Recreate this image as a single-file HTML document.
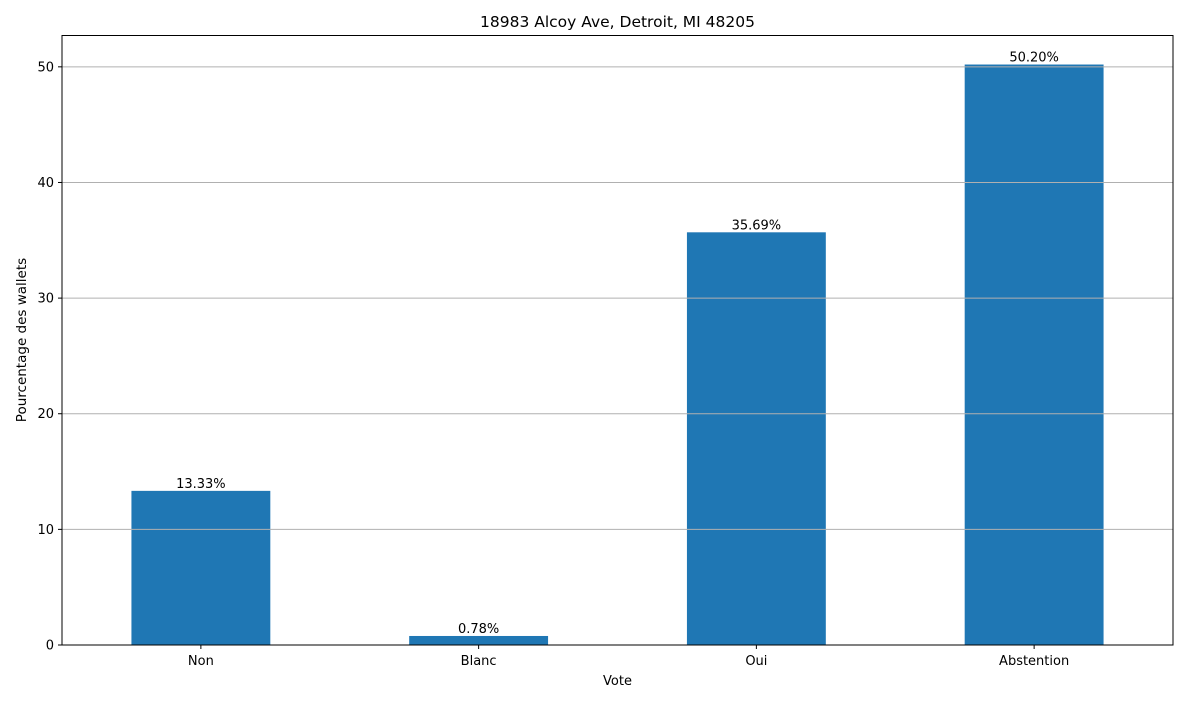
<!DOCTYPE html>
<html><head><meta charset="utf-8"><style>
body{margin:0;background:#fff;font-family:"Liberation Sans","DejaVu Sans",sans-serif;}
svg text{font-family:"DejaVu Sans","Liberation Sans",sans-serif;}
</style></head><body>
<svg id="chart" width="1188" height="703" xmlns="http://www.w3.org/2000/svg">
<rect x="0" y="0" width="1188" height="703" fill="#fff"/>
<text x="617.5" y="27" font-size="15.5" text-anchor="middle">18983 Alcoy Ave, Detroit, MI 48205</text>
<g id="bars"></g>
<g id="grid"></g>
<g id="labels"></g>
<rect x="62" y="35.5" width="1111" height="609.5" fill="none" stroke="#000" stroke-width="1"/>
<g id="yticks"></g>
<g id="xticks"></g>
<text x="617.5" y="685" font-size="13" text-anchor="middle">Vote</text>
<text transform="translate(26,340) rotate(-90)" font-size="13.5" text-anchor="middle">Pourcentage des wallets</text>
</svg>
<script>
const categories=["Non","Blanc","Oui","Abstention"];
const values=[13.33,0.78,35.69,50.20];
const yTicks=[0,10,20,30,40,50];
const NS="http://www.w3.org/2000/svg";
const L=62,R=1173,T=35.5,B=645;
const yMax=Math.max(...values)*1.05;
const x=i=>L+(i+0.5)*(R-L)/categories.length;
const y=v=>B-v/yMax*(B-T);
const bw=0.5*(R-L)/categories.length;
function mk(tag,attrs,parent){const e=document.createElementNS(NS,tag);for(const k in attrs)e.setAttribute(k,attrs[k]);document.getElementById(parent).appendChild(e);return e;}
yTicks.forEach(t=>{
  const g=mk("line",{x1:L,x2:R,y1:y(t),y2:y(t),stroke:"#b0b0b0","stroke-width":1},"grid");
  
  
  mk("line",{x1:L-4,x2:L,y1:y(t),y2:y(t),stroke:"#000"},"yticks");
  const tx=mk("text",{x:L-8,y:y(t)+4.5,"font-size":13,"text-anchor":"end"},"yticks");
  tx.textContent=t;
  
  
});
categories.forEach((c,i)=>{
  const r=mk("rect",{x:x(i)-bw/2,y:y(values[i]),width:bw,height:B-y(values[i]),fill:"#1f77b4"},"bars");
  
  
  const lb=mk("text",{x:x(i),y:y(values[i])-3,"font-size":13,"text-anchor":"middle"},"labels");
  lb.textContent=values[i].toFixed(2)+"%";
  
  
  mk("line",{x1:x(i),x2:x(i),y1:B,y2:B+4,stroke:"#000"},"xticks");
  const xt=mk("text",{x:x(i),y:B+20,"font-size":13,"text-anchor":"middle"},"xticks");
  xt.textContent=c;
  
  
});
</script>
</body></html>
